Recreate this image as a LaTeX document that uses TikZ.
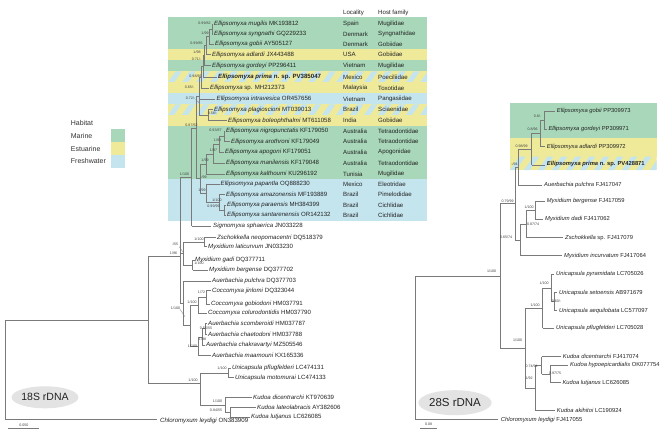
\documentclass[tikz,border=0pt]{standalone}
\usepackage{fontspec}
\setmainfont{Liberation Sans}
\usetikzlibrary{shapes.geometric}
\definecolor{mar}{HTML}{A8D8B9}
\definecolor{est}{HTML}{EFEA9A}
\definecolor{fre}{HTML}{C4E4EE}
\definecolor{treegray}{HTML}{7A7A7A}
\definecolor{txtc}{HTML}{222222}
\newcommand{\vl}[3]{\draw[br] (#1,#2) -- (#1,#3);}
\newcommand{\hl}[3]{\draw[br] (#1,#3) -- (#2,#3);}
\newcommand{\stripeband}[4]{%
 \begin{scope}
 \clip (#1,#3) rectangle (#2,#4);
 \fill[est] (#1,#3) rectangle (#2,#4);
 \foreach \i in {0,...,20} {
   \fill[fre] ({#1+\i*14-14},#4) -- ++(6,0) -- ++({0.7*(#4-#3)},{#3-#4}) -- ++(-6,0) -- cycle;
 }
 \end{scope}}
\newcommand{\rowL}[6]{%
 \node[tax] at (#2,#1) {\textit{#3} #4};
 \node[tax] at (343,#1) {#5};
 \node[tax] at (378,#1) {#6};}
\newcommand{\tR}[4]{\node[taxr] at (#1,#2) {\textit{#3} #4};}
\newcommand{\tL}[4]{\node[tax] at (#1,#2) {\textit{#3} #4};}
\newcommand{\bsl}[3]{\node[bs] at (#1,#2) {#3};}
\tikzset{
 br/.style={draw=treegray, line width=0.6pt},
 tax/.style={anchor=west, inner sep=0pt, text=txtc, font=\fontsize{6.1}{7}\selectfont},
 taxr/.style={anchor=west, inner sep=0pt, text=txtc, font=\fontsize{5.8}{7}\selectfont},
 bs/.style={inner sep=0pt, text=black!75, font=\fontsize{3.6}{4}\selectfont},
 leg/.style={anchor=west, inner sep=0pt, text=black!80, font=\fontsize{7}{8}\selectfont},
}
\begin{document}
\begin{tikzpicture}[x=1pt,y=-1pt]
\useasboundingbox (0,0) rectangle (669,441);
\fill[white] (0,0) rectangle (669,441);
% ---------- left habitat bands
\fill[mar] (168,17.3) rectangle (427,49.4);
\fill[est] (168,49.4) rectangle (427,60);
\fill[mar] (168,60) rectangle (427,71.3);
\stripeband{168}{427}{71.3}{82.5}
\fill[est] (168,82.5) rectangle (427,93.5);
\fill[fre] (168,93.5) rectangle (427,104.3);
\stripeband{168}{427}{104.3}{115}
\fill[est] (168,115) rectangle (427,125.8);
\fill[mar] (168,125.8) rectangle (427,179);
\fill[fre] (168,179) rectangle (427,220.7);
% ---------- right habitat bands
\fill[mar] (510,102.7) rectangle (656.7,138.3);
\fill[est] (510,138.3) rectangle (656.7,156.7);
\stripeband{510}{656.7}{156.7}{170}
% ---------- legend
\node[leg] (hab) at (70.7,123.3) {Habitat};
\node[leg] (lm) at (70.7,136) {Marine};
\node[leg] (le) at (70.7,148.7) {Estuarine};
\node[leg] (lf) at (70.7,161.3) {Freshwater};
\fill[mar] (111,129) rectangle (125,142.3);
\fill[est] (111,142.3) rectangle (125,155);
\fill[fre] (111,155) rectangle (125,167.7);
% ---------- headers
\node[tax] (hloc) at (343,13) {Locality};
\node[tax] (hhost) at (378,13) {Host family};
% ---------- left tree branches
\vl{5}{320}{419.3} \hl{5}{148.3}{320} \hl{5}{157}{419.3}
\vl{148.3}{256}{383.3} \hl{148.3}{180}{256} \hl{148.3}{200}{383.3}
\vl{180}{177}{303.3} \hl{180}{191.7}{177} \hl{180}{183.3}{253.6} \hl{180}{183.3}{303.3}
\vl{191.7}{128}{226} \hl{191.7}{196}{128} \hl{191.7}{211}{226}
\vl{196}{96}{178.5} \hl{196}{199}{96} \hl{196}{200}{178.5}
% group A
\vl{199}{77}{115} \hl{199}{201}{77} \hl{199}{215}{99} \hl{199}{208}{115}
\vl{208}{109.5}{120.5} \hl{208}{212.5}{109.5} \hl{208}{227}{120.5}
\vl{201}{66}{88} \hl{201}{203}{66} \hl{201}{209}{88}
\vl{203}{55.5}{77} \hl{203}{204}{55.5} \hl{203}{216.5}{77}
\vl{204}{45.6}{65.5} \hl{204}{206}{45.6} \hl{204}{211}{65.5}
\vl{206}{36.7}{54.5} \hl{206}{209}{36.7} \hl{206}{210.5}{54.5}
\vl{209}{29.2}{44.3} \hl{209}{212}{29.2} \hl{209}{213.5}{44.3}
\vl{212}{24}{34.3} \hl{212}{213}{24} \hl{212}{213}{34.3}
% group B
\vl{200}{164}{193} \hl{200}{206}{164} \hl{200}{206}{193}
\vl{206}{153.8}{174} \hl{206}{213}{153.8} \hl{206}{225}{174}
\vl{213}{144.3}{163.3} \hl{213}{219}{144.3} \hl{213}{225}{163.3}
\vl{219}{136.3}{152.3} \hl{219}{224}{136.3} \hl{219}{224}{152.3}
\vl{224}{131}{141.5} \hl{224}{225}{131} \hl{224}{230}{141.5}
\vl{206}{184}{202} \hl{206}{219.5}{184} \hl{206}{219}{202}
\vl{219}{194.5}{210} \hl{219}{225}{194.5} \hl{219}{224}{210}
\vl{224}{205}{215} \hl{224}{226}{205} \hl{224}{226}{215}
% Myxidium clade
\vl{183.3}{242.2}{265} \hl{183.3}{204}{242.2} \hl{183.3}{192.7}{265}
\vl{204}{237.7}{246.7} \hl{204}{216}{237.7} \hl{204}{207}{246.7}
\vl{192.7}{260}{270} \hl{192.7}{194.5}{260} \hl{192.7}{208}{270}
% Auerbachia / Coccomyxa
\vl{183.3}{281}{325.6} \hl{183.3}{211}{281} \hl{183.3}{190}{325.6}
\vl{190}{305.3}{346} \hl{190}{198.3}{305.3} \hl{190}{198.3}{346}
\vl{198.3}{297.4}{313.3} \hl{198.3}{206}{297.4} \hl{198.3}{207}{313.3}
\vl{206}{290.7}{304} \hl{206}{211}{290.7} \hl{206}{210}{304}
\vl{198.3}{336.8}{355} \hl{198.3}{202}{336.8} \hl{198.3}{211}{355}
\vl{202}{328.7}{345} \hl{202}{205}{328.7} \hl{202}{205}{345}
\vl{205}{323.3}{334} \hl{205}{207}{323.3} \hl{205}{207}{334}
% Unicapsula / Kudoa
\vl{200}{373}{405} \hl{200}{228}{373} \hl{200}{225}{405}
\vl{228}{368.3}{377.7} \hl{228}{231}{368.3} \hl{228}{234}{377.7}
\vl{225}{397.7}{412.5} \hl{225}{252}{397.7} \hl{225}{230}{412.5}
\vl{230}{407.7}{417.3} \hl{230}{255.5}{407.7} \hl{230}{250}{417.3}
% leaders
\draw[br, line width=0.3pt] (195.5,99.5) -- (199.5,103);
\draw[br, line width=0.3pt] (179.3,246.7) -- (182.7,251.7);
\draw[br, line width=0.3pt] (180,309.3) -- (185,316.7);
% ---------- left taxa
\rowL{24}{214}{Ellipsomyxa mugilis}{MK193812}{Spain}{Mugilidae}
\rowL{34.3}{214}{Ellipsomyxa syngnathi}{GQ229233}{Denmark}{Syngnathidae}
\rowL{44.3}{215}{Ellipsomyxa gobii}{AY505127}{Denmark}{Gobiidae}
\rowL{54.5}{212}{Ellipsomyxa adlardi}{JX443488}{USA}{Gobiidae}
\rowL{65.5}{212}{Ellipsomyxa gordeyi}{PP296411}{Vietnam}{Mugilidae}
\node[tax] (lprima) at (218,77) {\textbf{\textit{Ellipsomyxa prima} n. sp. PV385047}};
\node[tax] at (343,77) {Mexico};
\node[tax] at (378,77) {Poeciliidae};
\rowL{88}{210}{Ellipsomyxa}{sp. MH212373}{Malaysia}{Toxotidae}
\rowL{99}{216.5}{Ellipsomyxa intravesica}{OR457656}{Vietnam}{Pangasiidae}
\rowL{109.5}{214}{Ellipsomyxa plagioscioni}{MT039013}{Brazil}{Sciaenidae}
\rowL{120.5}{228}{Ellipsomyxa boleophthalmi}{MT611058}{India}{Gobiidae}
\rowL{131}{226}{Ellipsomyxa nigropunctatis}{KF179050}{Australia}{Tetraodontidae}
\rowL{141.5}{231}{Ellipsomyxa arothroni}{KF179049}{Australia}{Tetraodontidae}
\rowL{152.3}{225}{Ellipsomyxa apogoni}{KF179051}{Australia}{Apogonidae}
\rowL{163.3}{226}{Ellipsomyxa manilensis}{KF179048}{Australia}{Tetraodontidae}
\rowL{174}{226}{Ellipsomyxa kalthoumi}{KU296192}{Tunisia}{Mugilidae}
\rowL{184}{220.5}{Ellipsomyxa papantla}{OQ888230}{Mexico}{Eleotridae}
\rowL{194.5}{226}{Ellipsomyxa amazonensis}{MF193889}{Brazil}{Pimelodidae}
\rowL{205}{227}{Ellipsomyxa paraensis}{MH384399}{Brazil}{Cichlidae}
\rowL{215}{227}{Ellipsomyxa santarenensis}{OR142132}{Brazil}{Cichlidae}
\tL{213}{226}{Sigmomyxa sphaerica}{JN033228}
\tL{217}{237.7}{Zschokkella neopomacentri}{DQ518379}
\tL{208}{246.7}{Myxidium laticurvum}{JN033230}
\tL{195}{260}{Myxidium gadi}{DQ377711}
\tL{209}{270}{Myxidium bergense}{DQ377702}
\tL{212}{281}{Auerbachia pulchra}{DQ377703}
\tL{212}{290.7}{Coccomyxa jinlomi}{DQ323044}
\tL{211}{304}{Coccomyxa gobiodoni}{HM037791}
\tL{208}{313.3}{Coccomyxa colurodontidis}{HM037790}
\tL{208}{323.3}{Auerbachia scomberoidi}{HM037787}
\tL{208}{334}{Auerbachia chaetodoni}{HM037788}
\tL{206}{345}{Auerbachia chakravartyi}{MZ505546}
\tL{212}{355}{Auerbachia maamouni}{KX165336}
\tL{232}{368.3}{Unicapsula pflugfelderi}{LC474131}
\tL{235}{377.7}{Unicapsula motomurai}{LC474133}
\tL{253}{397.7}{Kudoa dicentrarchi}{KT970639}
\tL{257}{407.7}{Kudoa lateolabracis}{AY382606}
\tL{251}{417.3}{Kudoa lutjanus}{LC626085}
\tL{160}{421}{Chloromyxum leydigi}{ON383909}
% ---------- left support values
\bsl{204.5}{23.5}{0.99/82}
\bsl{205}{32.8}{1/99}
\bsl{196.5}{43.3}{0.99/85}
\bsl{197}{52.3}{1/98}
\bsl{196.5}{58.8}{0.71/-}
\bsl{195.5}{76.3}{0.98/66}
\bsl{189.5}{87}{0.65/-}
\bsl{190.5}{98}{0.72/-}
\bsl{212.5}{113.5}{0.58/-}
\bsl{191.5}{125.5}{0.87/62}
\bsl{215.5}{130}{0.93/67}
\bsl{217.5}{139.8}{1/93}
\bsl{213.5}{150}{1/97}
\bsl{205}{160.7}{1/99}
\bsl{203.5}{177.3}{-/99}
\bsl{184.5}{174}{1/100}
\bsl{202}{190}{1/99}
\bsl{217}{200}{1/100}
\bsl{213.5}{206}{0.99/99}
\bsl{199}{239.5}{1/100}
\bsl{175}{244}{-/55}
\bsl{173.5}{253}{1/96}
\bsl{199}{263}{1/100}
\bsl{201.5}{292}{1/72}
\bsl{192}{302}{1/100}
\bsl{175.5}{308}{1/100}
\bsl{206}{328}{0.55/55}
\bsl{202.5}{339.5}{1/98}
\bsl{192.5}{346.7}{1/100}
\bsl{222}{368}{1/100}
\bsl{193}{380}{1/100}
\bsl{217.5}{401}{1/100}
\bsl{216}{410}{0.84/55}
% ---------- left label & scale
\node[ellipse, fill=black!11, inner sep=0pt, minimum width=57pt, minimum height=22pt, font=\fontsize{10.5}{12}\selectfont, text=txtc] (l18) at (45,397.3) {18S rDNA};
\draw[br] (8.3,428.3) -- (39.3,428.3);
\bsl{23.8}{425.3}{0.050}
% ---------- right tree branches
\vl{415}{275.8}{419.3} \hl{415}{500}{275.8} \hl{415}{498}{419.3}
\vl{500}{203.5}{348.1} \hl{500}{515}{203.5} \hl{500}{525}{348.1}
\vl{515}{167}{240} \hl{515}{518.3}{167} \hl{515}{520}{240}
\vl{518.3}{149}{185} \hl{518.3}{531.7}{149} \hl{518.3}{542}{185}
\vl{531.7}{133.3}{165} \hl{531.7}{540}{133.3} \hl{531.7}{545}{165}
\vl{540}{120}{146.7} \hl{540}{544.3}{120} \hl{540}{545}{146.7}
\vl{544.3}{111}{129.3} \hl{544.3}{555}{111} \hl{544.3}{547}{129.3}
\vl{520}{224}{255.7} \hl{520}{526.7}{224} \hl{520}{562}{255.7}
\vl{526.7}{210}{237.7} \hl{526.7}{535}{210} \hl{526.7}{563}{237.7}
\vl{535}{201}{219.3} \hl{535}{545}{201} \hl{535}{543}{219.3}
\vl{525}{308.2}{388} \hl{525}{542.7}{308.2} \hl{525}{535}{388}
\vl{542.7}{288}{328.3} \hl{542.7}{551.7}{288} \hl{542.7}{554}{328.3}
\vl{551.7}{274.3}{301.7} \hl{551.7}{554}{274.3} \hl{551.7}{554}{301.7}
\vl{554}{292.7}{310.7} \hl{554}{557}{292.7} \hl{554}{557}{310.7}
\vl{535}{365.3}{410.7} \hl{535}{541.7}{365.3} \hl{535}{555}{410.7}
\vl{541.7}{356.7}{373.9} \hl{541.7}{561}{356.7} \hl{541.7}{550}{373.9}
\vl{550}{365}{382.7} \hl{550}{568}{365} \hl{550}{560.5}{382.7}
% ---------- right taxa
\tR{556.7}{111}{Ellipsomyxa gobii}{PP309973}
\tR{548.3}{129.3}{Ellipsomyxa gordeyi}{PP309971}
\tR{546.7}{146.7}{Ellipsomyxa adlardi}{PP309972}
\node[taxr] (rprima) at (546.7,164) {\textbf{\textit{Ellipsomyxa prima} n. sp. PV428871}};
\tR{544}{185}{Auerbachia pulchra}{FJ417047}
\tR{546.7}{201}{Myxidium bergense}{FJ417059}
\tR{545}{219.3}{Myxidium dadi}{FJ417062}
\tR{565}{237.7}{Zschokkella}{sp. FJ417079}
\tR{564}{255.7}{Myxidium incurvatum}{FJ417064}
\tR{556}{274.3}{Unicapsula pyramidata}{LC705026}
\tR{559}{292.7}{Unicapsula setoensis}{AB971679}
\tR{559}{310.7}{Unicapsula aequilobata}{LC577097}
\tR{556}{328.3}{Unicapsula pflugfelderi}{LC705028}
\tR{562.7}{356.7}{Kudoa dicentrarchi}{FJ417074}
\tR{570}{365}{Kudoa hypoepicardialis}{OK077754}
\tR{562.3}{382.7}{Kudoa lutjanus}{LC626085}
\tR{556.7}{410.7}{Kudoa akihitoi}{LC190924}
\tR{500.7}{420}{Chloromyxum leydigi}{FJ417055}
% ---------- right support values
\bsl{537.5}{116}{0.8/-}
\bsl{532.5}{129}{0.8/96}
\bsl{521.5}{146}{0.98/99}
\bsl{514.5}{164}{-/94}
\bsl{507.5}{201}{0.79/99}
\bsl{529}{207.7}{1/100}
\bsl{533}{224.3}{0.87/74}
\bsl{506}{237.7}{0.65/74}
\bsl{491.5}{271.7}{1/100}
\bsl{544}{283.3}{1/100}
\bsl{556.5}{301.7}{0.60/-}
\bsl{535}{305}{1/100}
\bsl{517.5}{340}{1/100}
\bsl{531.5}{366.7}{0.74/94}
\bsl{555}{373.3}{0.97/75}
\bsl{529}{378.3}{1/92}
% ---------- right label & scale
\node[ellipse, fill=black!11, inner sep=0pt, minimum width=58pt, minimum height=25pt, font=\fontsize{11.5}{13}\selectfont, text=txtc] (r28) at (455,402.7) {28S rDNA};
\draw[br] (420,428) -- (437,428);
\bsl{428.5}{424.7}{0.08}
\end{tikzpicture}
\end{document}
